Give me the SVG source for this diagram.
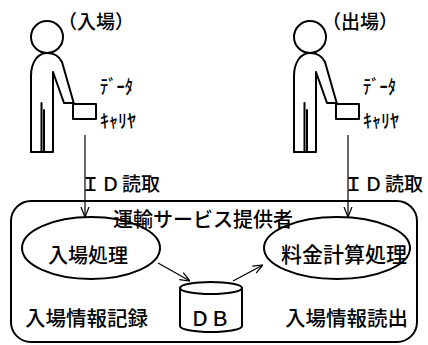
<svg xmlns="http://www.w3.org/2000/svg" width="428" height="345" viewBox="0 0 428 345">
  <style>
    .fig { fill: none; stroke: #000; stroke-width: 2; stroke-linejoin: round; stroke-linecap: round; }
    .conn { fill: none; stroke: #000; stroke-width: 1.2; }
    .jp { font-family: "Noto Sans CJK JP", "Noto Sans", sans-serif; fill: #000; font-weight: 500; }
    .lbl { font-size: 20px; }
    .kana { font-size: 19px; }
  </style>
  <defs>
    <marker id="arrow" viewBox="0 0 10 10" refX="10" refY="5" markerWidth="10" markerHeight="10" markerUnits="userSpaceOnUse" orient="auto">
      <path d="M0,1 L10,5 L0,9" fill="none" stroke="#000" stroke-width="1.2"/>
    </marker>
    <!-- standing figure holding a data carrier -->
    <g id="person">
      <circle class="fig" cx="47" cy="37" r="16"/>
      <path class="fig" d="M31,152 L31,76 C31,62 38,53 47,53 C54,53 59,56 62,62 L74,104"/>
      <path class="fig" d="M73,103 L64,103 L53,72 L53,152 L31,152"/>
      <line class="fig" x1="41.5" y1="103" x2="41.5" y2="152" stroke-width="1.4"/>
      <line class="fig" x1="44" y1="110" x2="44" y2="152" stroke-width="1.2"/>
      <rect class="fig" x="73" y="104" width="23" height="15"/>
      <text class="jp kana" x="100" y="94" textLength="33" lengthAdjust="spacingAndGlyphs">ﾃﾞｰﾀ</text>
      <text class="jp kana" x="100" y="128" textLength="36" lengthAdjust="spacingAndGlyphs">ｷｬﾘﾔ</text>
    </g>
  </defs>

  <!-- service provider boundary -->
  <g id="provider">
    <rect class="fig" x="11" y="201" width="406" height="141" rx="20"/>
    <text class="jp lbl" x="113" y="227" font-size="20.5">運輸サービス提供者</text>
  </g>

  <!-- entering passenger -->
  <g id="entry-person">
    <use href="#person"/>
    <text class="jp" x="58" y="29" font-size="19">（入場）</text>
    <text class="jp" x="86" y="191" font-size="19"><tspan x="81">Ｉ</tspan><tspan x="101">Ｄ</tspan><tspan x="122">読取</tspan></text>
  </g>

  <!-- exiting passenger -->
  <g id="exit-person">
    <use href="#person" transform="translate(263,0)"/>
    <text class="jp" x="322" y="29" font-size="19">（出場）</text>
    <text class="jp" x="349" y="191" font-size="19"><tspan x="344">Ｉ</tspan><tspan x="364">Ｄ</tspan><tspan x="385">読取</tspan></text>
  </g>

  <g id="entry-process">
    <ellipse class="fig" cx="91" cy="248" rx="69" ry="31"/>
    <text class="jp lbl" x="88" y="263" text-anchor="middle" font-size="21">入場処理</text>
  </g>

  <g id="fare-process">
    <ellipse class="fig" cx="337" cy="248" rx="73" ry="31"/>
    <text class="jp" x="344" y="262" font-size="21" text-anchor="middle">料金計算処理</text>
  </g>

  <g id="db">
    <path class="fig" d="M180,288 L180,326 A31,6 0 0 0 242,326 L242,288"/>
    <ellipse class="fig" cx="211" cy="288" rx="31" ry="6"/>
    <text class="jp" x="210" y="326" font-size="20" text-anchor="middle">ＤＢ</text>
  </g>

  <g id="record-label">
    <text class="jp" x="25" y="326" font-size="20.5">入場情報記録</text>
  </g>
  <g id="read-label">
    <text class="jp" x="285" y="326" font-size="20.5">入場情報読出</text>
  </g>

  <!-- connectors -->
  <g id="connectors">
    <line class="conn" x1="85" y1="135" x2="85" y2="217" marker-end="url(#arrow)"/>
    <line class="conn" x1="348" y1="135" x2="348" y2="217" marker-end="url(#arrow)"/>
    <line class="conn" x1="158" y1="263" x2="190" y2="281" marker-end="url(#arrow)"/>
    <line class="conn" x1="233" y1="281" x2="263" y2="265" marker-end="url(#arrow)"/>
  </g>
</svg>
